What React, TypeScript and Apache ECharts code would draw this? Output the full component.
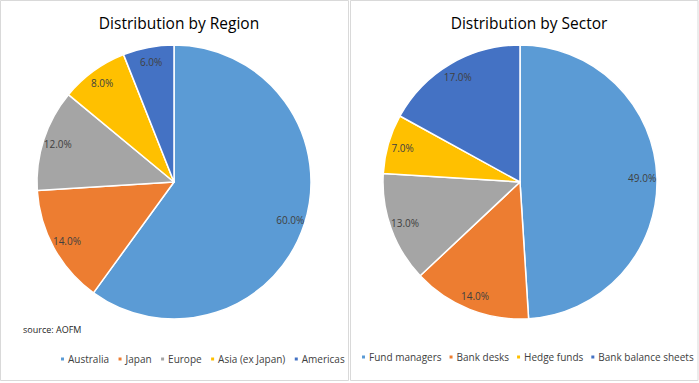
import React, { useEffect, useRef } from "react";
import * as echarts from "echarts";

const regionNames = ["Australia", "Japan", "Europe", "Asia (ex Japan)", "Americas"];
const regionValues = [60, 14, 12, 8, 6];
const sectorNames = ["Fund managers", "Bank desks", "Other", "Hedge funds", "Bank balance sheets"];
const sectorValues = [49, 14, 13, 7, 17];
const sectorLegend = ["Fund managers", "Bank desks", "Hedge funds", "Bank balance sheets"];
const colors = ["#5B9BD5", "#ED7D31", "#A5A5A5", "#FFC000", "#4472C4"];

const FONT = "'Open Sans', 'Noto Sans', sans-serif";

function makeData(names: string[], values: number[]) {
  return names.map((n, i) => ({ name: n, value: values[i], itemStyle: { color: colors[i] } }));
}

export default function App() {
  const ref = useRef<HTMLDivElement>(null);
  useEffect(() => {
    if (!ref.current) return;
    const chart = echarts.init(ref.current, null, { renderer: "svg" });
    const R = 137;
    const mainPie = (name: string, cx: number, names: string[], values: number[]) => ({
      type: "pie",
      name,
      center: [cx, 182],
      radius: [0, R],
      startAngle: 90,
      clockwise: true,
      silent: true,
      label: { show: false },
      labelLine: { show: false },
      itemStyle: { borderColor: "#ffffff", borderWidth: 1.5 },
      data: makeData(names, values),
    });
    const labelPie = (name: string, cx: number, names: string[], values: number[]) => ({
      type: "pie",
      name: name + "-labels",
      center: [cx, 182],
      radius: [R * 0.74, R],
      startAngle: 90,
      clockwise: true,
      silent: true,
      legendHoverLink: false,
      label: {
        show: true,
        position: "inside",
        color: "#404040",
        fontFamily: FONT,
        fontSize: 10,
        formatter: (p: any) => p.value.toFixed(1) + "%",
      },
      labelLine: { show: false },
      itemStyle: { color: "transparent", borderWidth: 0 },
      data: names.map((n, i) => ({ name: n, value: values[i], itemStyle: { color: "transparent" } })),
    });
    const legendText = { fontFamily: FONT, fontSize: 10, color: "#404040", padding: [0, 0, 0, -2] };
    chart.setOption({
      animation: false,
      backgroundColor: "#ffffff",
      title: [
        {
          text: "Distribution by Region",
          left: 174,
          top: 10,
          textAlign: "center",
          textStyle: { fontFamily: FONT, fontSize: 15.5, fontWeight: "normal", color: "#000000" },
        },
        {
          text: "Distribution by Sector",
          left: 524,
          top: 10,
          textAlign: "center",
          textStyle: { fontFamily: FONT, fontSize: 15.5, fontWeight: "normal", color: "#000000" },
        },
      ],
      legend: [
        {
          data: regionNames,
          left: 54,
          top: 349,
          width: 320,
          icon: "rect",
          itemWidth: 5,
          itemHeight: 5,
          itemGap: 7.5,
          selectedMode: false,
          textStyle: legendText,
        },
        {
          data: sectorLegend,
          left: 355,
          top: 347,
          width: 345,
          icon: "rect",
          itemWidth: 5,
          itemHeight: 5,
          itemGap: 6,
          selectedMode: false,
          textStyle: legendText,
        },
      ],
      graphic: [
        {
          type: "rect",
          shape: { x: 0.5, y: 0.5, width: 348, height: 380 },
          style: { fill: "none", stroke: "#d9d9d9", lineWidth: 1 },
          silent: true,
        },
        {
          type: "rect",
          shape: { x: 350.5, y: 0.5, width: 347.5, height: 380 },
          style: { fill: "none", stroke: "#d9d9d9", lineWidth: 1 },
          silent: true,
        },
        {
          type: "text",
          left: 23,
          top: 325,
          style: { text: "source: AOFM", fontFamily: FONT, fontSize: 9, fill: "#262626" },
          silent: true,
        },
      ],
      series: [
        mainPie("Region", 174, regionNames, regionValues),
        mainPie("Sector", 520, sectorNames, sectorValues),
        labelPie("Region", 174, regionNames, regionValues),
        labelPie("Sector", 520, sectorNames, sectorValues),
      ],
    });
    return () => chart.dispose();
  }, []);
  return (
    <div
      ref={ref}
      style={{ position: "fixed", left: 0, top: 0, width: 699, height: 383, background: "#fff" }}
    />
  );
}
